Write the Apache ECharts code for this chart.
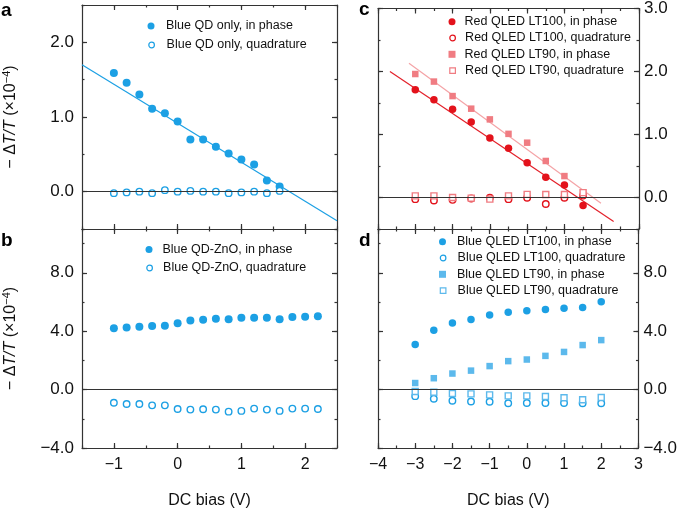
<!DOCTYPE html>
<html><head><meta charset="utf-8">
<script src="https://cdn.jsdelivr.net/npm/echarts@6/dist/echarts.min.js"></script>
<style>html,body{margin:0;padding:0;background:#fff}#c{width:680px;height:510px}</style>
</head><body><div id="c"></div>
<script>
// ---------- Panel a : Blue QD only ----------
const aX = [-1, -0.8, -0.6, -0.4, -0.2, 0, 0.2, 0.4, 0.6, 0.8, 1.0, 1.2, 1.4, 1.6];
const aInPhase = [1.59, 1.46, 1.30, 1.11, 1.05, 0.94, 0.70, 0.70, 0.60, 0.51, 0.43, 0.365, 0.15, 0.07];
const aQuad = [-0.02, -0.01, 0.0, -0.02, 0.02, 0.0, 0.01, 0.0, 0.0, -0.02, -0.01, 0.0, -0.02, 0.01];
const aFitX = [-1.5, 2.5];
const aFitY = [1.70, -0.39];
// ---------- Panel b : Blue QD-ZnO ----------
const bX = [-1, -0.8, -0.6, -0.4, -0.2, 0, 0.2, 0.4, 0.6, 0.8, 1.0, 1.2, 1.4, 1.6, 1.8, 2.0, 2.2];
const bInPhase = [4.20, 4.25, 4.31, 4.36, 4.38, 4.54, 4.74, 4.79, 4.85, 4.81, 4.92, 4.92, 4.92, 4.81, 4.97, 4.99, 5.03];
const bQuad = [-0.90, -0.99, -0.99, -1.08, -1.08, -1.33, -1.37, -1.35, -1.37, -1.51, -1.46, -1.30, -1.37, -1.46, -1.30, -1.30, -1.33];
// ---------- Panel c : Red QLED ----------
const cX = [-3, -2.5, -2, -1.5, -1, -0.5, 0, 0.5, 1, 1.5];
const cLT100In = [1.71, 1.55, 1.40, 1.20, 0.945, 0.78, 0.55, 0.32, 0.20, -0.125];
const cLT100Quad = [-0.026, -0.047, -0.037, -0.016, -0.005, -0.026, -0.005, -0.104, -0.005, 0.03];
const cLT90In = [1.96, 1.84, 1.61, 1.41, 1.24, 1.01, 0.87, 0.58, 0.34, 0.08];
const cLT90Quad = [0.026, 0.026, 0.0, -0.01, -0.026, 0.026, 0.05, 0.047, 0.047, 0.078];
const cFit100X = [-3.68, 2.32];
const cFit100Y = [2.0, -0.38];
const cFit90X = [-3.17, 1.98];
const cFit90Y = [2.13, -0.09];
// ---------- Panel d : Blue QLED ----------
const dX = [-3, -2.5, -2, -1.5, -1, -0.5, 0, 0.5, 1, 1.5, 2];
const dLT100In = [3.09, 4.06, 4.57, 4.80, 5.11, 5.29, 5.40, 5.49, 5.58, 5.63, 6.01];
const dLT100Quad = [-0.45, -0.63, -0.76, -0.81, -0.83, -0.94, -0.92, -0.92, -0.92, -0.94, -0.94];
const dLT90In = [0.45, 0.78, 1.10, 1.30, 1.61, 1.95, 2.06, 2.31, 2.58, 3.05, 3.39];
const dLT90Quad = [-0.13, -0.18, -0.27, -0.29, -0.36, -0.43, -0.43, -0.47, -0.56, -0.70, -0.54];
// ---------- Ticks ----------
const xTicksAB = [-1, 0, 1, 2];
const xTicksCD = [-4, -3, -2, -1, 0, 1, 2, 3];
const yTicksA = [0, 1, 2];
const yTicksB = [-4, 0, 4, 8];
const yTicksC = [0, 1, 2, 3];
const yTicksD = [-4, 0, 4, 8];
const xTitle = 'DC bias (V)';
const yTitle = '{n|\u2212 \u0394}{i|T/T}{n| (\u00d710}{s|\u22124}{n|)}';

// ---------- Styles ----------
const FONT = '"Liberation Sans", Arial, Helvetica, sans-serif';
const AXC = '#333';
const BLUE = '#1ca0e4';
const LBLUE = '#5cb9ec';
const RED = '#e3121b';
const LRED = '#f07c82';
const RED_LINE = '#e3202a';
const LRED_LINE = '#f4a3a6';

function fmt(v, dec) { const s = Math.abs(v).toFixed(dec); return (v < 0 ? '\u2212' : '') + s; }
const zip = (xs, ys) => xs.map((x, i) => [x, ys[i]]);

const xAxes = [], yAxes = [];
function addAxes(list, grid, pos, min, max, major, minorStep, label, nameOpt) {
  const main = {
    type: 'value', gridIndex: grid, position: pos, min: min, max: max,
    axisLine: { show: true, onZero: false, lineStyle: { color: AXC, width: 1.2 } },
    axisTick: { show: true, inside: true, length: 5, customValues: major, lineStyle: { color: AXC, width: 1.2 } },
    axisLabel: label ? { show: true, customValues: major, formatter: v => fmt(v, label.dec), color: '#111',
      fontSize: label.size, fontFamily: FONT, margin: label.margin } : { show: false },
    splitLine: { show: false }
  };
  if (nameOpt) Object.assign(main, nameOpt);
  const minor = {
    type: 'value', gridIndex: grid, position: pos, min: min, max: max, interval: minorStep,
    axisLine: { show: false, onZero: false },
    axisTick: { show: true, inside: true, length: 2.5, lineStyle: { color: AXC, width: 1.2 } },
    axisLabel: { show: false }, splitLine: { show: false }
  };
  const idx = list.length;
  list.push(main, minor);
  return idx;
}
const yNameStyle = {
  name: yTitle, nameLocation: 'middle', nameRotate: 90, nameGap: 61,
  nameTextStyle: {
    color: '#111', fontSize: 16, fontFamily: FONT,
    rich: {
      n: { fontSize: 16, fontFamily: FONT, color: '#111', lineHeight: 20 },
      i: { fontSize: 16, fontFamily: FONT, color: '#111', fontStyle: 'italic', lineHeight: 20 },
      s: { fontSize: 11, fontFamily: FONT, color: '#111', verticalAlign: 'top', lineHeight: 11 }
    }
  }
};
const xNameStyle = { name: xTitle, nameLocation: 'middle', nameGap: 45,
  nameTextStyle: { color: '#111', fontSize: 16, fontFamily: FONT } };

const xa = [], ya = [];
// grid 0 (a)
xa[0] = addAxes(xAxes, 0, 'bottom', -1.5, 2.5, xTicksAB, 0.5, null);
addAxes(xAxes, 0, 'top', -1.5, 2.5, xTicksAB, 0.5, null);
ya[0] = addAxes(yAxes, 0, 'left', -0.5, 2.5, yTicksA, 0.5, { dec: 1, margin: 8, size: 17 }, yNameStyle);
addAxes(yAxes, 0, 'right', -0.5, 2.5, yTicksA, 0.5, null);
// grid 1 (b)
xa[1] = addAxes(xAxes, 1, 'bottom', -1.5, 2.5, xTicksAB, 0.5, { dec: 0, margin: 9, size: 16 }, xNameStyle);
addAxes(xAxes, 1, 'top', -1.5, 2.5, xTicksAB, 0.5, null);
ya[1] = addAxes(yAxes, 1, 'left', -4, 11, yTicksB, 2, { dec: 1, margin: 8, size: 17 }, yNameStyle);
addAxes(yAxes, 1, 'right', -4, 11, yTicksB, 2, null);
// grid 2 (c)
xa[2] = addAxes(xAxes, 2, 'bottom', -4, 3, xTicksCD, 0.5, null);
addAxes(xAxes, 2, 'top', -4, 3, xTicksCD, 0.5, null);
ya[2] = addAxes(yAxes, 2, 'right', -0.5, 3, yTicksC, 0.5, { dec: 1, margin: 5, size: 17 });
addAxes(yAxes, 2, 'left', -0.5, 3, yTicksC, 0.5, null);
// grid 3 (d)
xa[3] = addAxes(xAxes, 3, 'bottom', -4, 3, xTicksCD, 0.5, { dec: 0, margin: 9, size: 16 }, xNameStyle);
addAxes(xAxes, 3, 'top', -4, 3, xTicksCD, 0.5, null);
ya[3] = addAxes(yAxes, 3, 'right', -4, 11, yTicksD, 2, { dec: 1, margin: 5, size: 17 });
addAxes(yAxes, 3, 'left', -4, 11, yTicksD, 2, null);

const zeroLine = { silent: true, symbol: 'none', label: { show: false },
  lineStyle: { color: '#333', width: 1.2, type: 'solid' }, emphasis: { disabled: true }, data: [{ yAxis: 0 }] };

function filled(name, g, xs, ys, color, symbol, size, withZero) {
  const s = { type: 'scatter', name: name, xAxisIndex: xa[g], yAxisIndex: ya[g], data: zip(xs, ys),
    symbol: symbol, symbolSize: size, itemStyle: { color: color, opacity: 1 }, z: 3 };
  if (withZero) s.markLine = zeroLine;
  return s;
}
function open(name, g, xs, ys, color, symbol, size) {
  return { type: 'scatter', name: name, xAxisIndex: xa[g], yAxisIndex: ya[g], data: zip(xs, ys),
    symbol: symbol, symbolSize: size, itemStyle: { color: '#fff', borderColor: color, borderWidth: 1.4, opacity: 1 }, z: 4 };
}
function fit(g, xs, ys, color) {
  return { type: 'line', name: 'fit' + g + color, xAxisIndex: xa[g], yAxisIndex: ya[g], data: zip(xs, ys),
    symbol: 'none', lineStyle: { color: color, width: 1.2 }, z: 2, silent: true };
}

const series = [
  filled('Blue QD only, in phase', 0, aX, aInPhase, BLUE, 'circle', 8, true),
  open('Blue QD only, quadrature', 0, aX, aQuad, BLUE, 'circle', 6.5),
  fit(0, aFitX, aFitY, BLUE),
  filled('Blue QD-ZnO, in phase', 1, bX, bInPhase, BLUE, 'circle', 8, true),
  open('Blue QD-ZnO, quadrature', 1, bX, bQuad, BLUE, 'circle', 6.5),
  fit(2, cFit100X, cFit100Y, RED_LINE),
  fit(2, cFit90X, cFit90Y, LRED_LINE),
  filled('Red QLED LT100, in phase', 2, cX, cLT100In, RED, 'circle', 7.5, true),
  open('Red QLED LT100, quadrature', 2, cX, cLT100Quad, RED, 'circle', 6.5),
  filled('Red QLED LT90, in phase', 2, cX, cLT90In, LRED, 'rect', 6.5, false),
  open('Red QLED LT90, quadrature', 2, cX, cLT90Quad, LRED, 'rect', 6),
  filled('Blue QLED LT100, in phase', 3, dX, dLT100In, BLUE, 'circle', 7.5, true),
  open('Blue QLED LT100, quadrature', 3, dX, dLT100Quad, BLUE, 'circle', 6.5),
  filled('Blue QLED LT90, in phase', 3, dX, dLT90In, LBLUE, 'rect', 6.5, false),
  open('Blue QLED LT90, quadrature', 3, dX, dLT90Quad, LBLUE, 'rect', 6)
];

// one legend component per row: [name, icon centre x, row centre y, text start x]
const legendRows = [
  ['Blue QD only, in phase', 151, 26, 166],
  ['Blue QD only, quadrature', 151, 45, 166],
  ['Blue QD-ZnO, in phase', 149, 249.5, 162.5],
  ['Blue QD-ZnO, quadrature', 149, 268, 162.5],
  ['Red QLED LT100, in phase', 452, 21.7, 464.5],
  ['Red QLED LT100, quadrature', 452, 38, 464.5],
  ['Red QLED LT90, in phase', 452, 54.3, 464.5],
  ['Red QLED LT90, quadrature', 452, 70.6, 464.5],
  ['Blue QLED LT100, in phase', 442.5, 241.7, 457],
  ['Blue QLED LT100, quadrature', 442.5, 258, 457],
  ['Blue QLED LT90, in phase', 442.5, 274.3, 457],
  ['Blue QLED LT90, quadrature', 442.5, 290.6, 457]
];
const legends = legendRows.map(r => {
  const isOpen = r[0].indexOf('quadrature') >= 0;
  const sz = isOpen ? 5.6 : 7;
  const left = r[1] - sz / 2;
  return {
    orient: 'vertical', left: left, top: r[2] - 6.5, itemWidth: sz, itemHeight: sz,
    selectedMode: false, padding: 0,
    data: [isOpen ? { name: r[0], itemStyle: { borderWidth: 1.2 } } : { name: r[0] }],
    textStyle: { fontSize: 12.5, fontFamily: FONT, color: '#111', lineHeight: 13,
      padding: [0, 0, 0, r[3] - (left + sz + 5)] }
  };
});

const letters = [['a', 1, 11], ['b', 1, 241], ['c', 359, 10], ['d', 359, 241]].map(l => ({
  type: 'text', left: l[1], top: l[2] - 10,
  style: { text: l[0], fontSize: 19, fontWeight: 'bold', fontFamily: FONT, fill: '#000' }
}));

const option = {
  animation: false,
  backgroundColor: '#fff',
  grid: [
    { left: 76, top: 5, width: 261, height: 224 },
    { left: 76, top: 229, width: 261, height: 224 },
    { left: 378, top: 5, width: 261, height: 224 },
    { left: 378, top: 229, width: 261, height: 224 }
  ],
  xAxis: xAxes,
  yAxis: yAxes,
  legend: legends,
  graphic: letters,
  series: series
};
const chart = echarts.init(document.getElementById('c'), null, { renderer: 'canvas' });
chart.setOption(option);
</script></body></html>
